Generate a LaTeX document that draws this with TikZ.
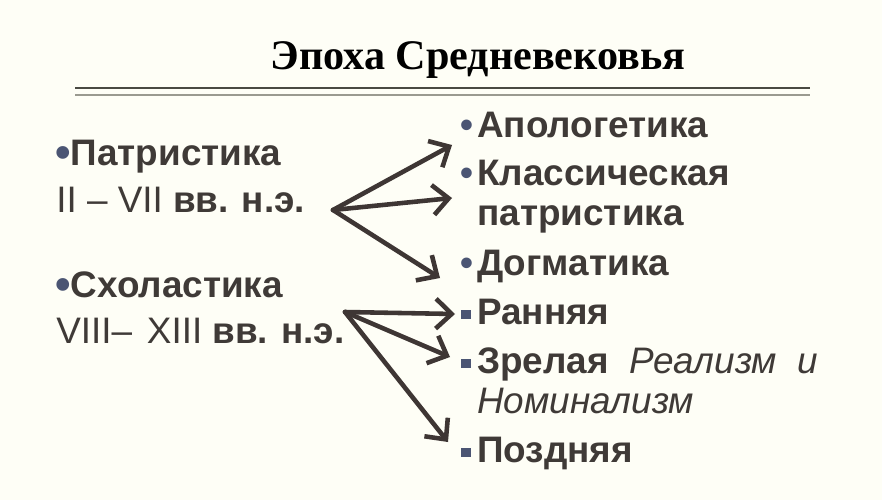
\documentclass[tikz,border=0pt]{standalone}
\usepackage{graphicx}
\usepackage{fontspec}
\setmainfont{Liberation Sans}
\newfontfamily\titlefont{Liberation Serif}
\usetikzlibrary{positioning, arrows.meta}
\definecolor{pagebg}{HTML}{FEFEF6}
\definecolor{txtc}{HTML}{3F3A37}
\definecolor{arrc}{HTML}{3E3634}
\definecolor{bulc}{HTML}{4B5573}
\definecolor{rulec}{HTML}{4A4A42}
\definecolor{rulelt}{HTML}{9A9A90}
\newcommand{\lbul}{{\color{bulc}\raisebox{-1.3pt}{\scalebox{1.2}{\textbullet}}}}
\newcommand{\rbul}{\makebox[9.6pt][l]{\color{bulc}\textbullet}}
\newcommand{\sbul}{\makebox[9pt][l]{\color{bulc}\raisebox{2.8pt}{\rule{5.4pt}{5.4pt}}}}

\begin{document}
\begin{tikzpicture}[
    x=0.02cm, y=-0.02cm,
    txt/.style={anchor=base west, inner sep=0pt, text=txtc, font=\fontsize{21}{25}\selectfont\bfseries},
    arr/.style={-{Straight Barb[length=9pt, width=17pt]}, line width=2.6pt, draw=arrc, line cap=round, line join=round}
]
    \fill[pagebg] (0,0) rectangle (882,500);

    \node[anchor=base, inner sep=0pt, text=black, font=\titlefont\fontsize{24}{28}\selectfont\bfseries] (title) at (478,70) {Эпоха Средневековья};
    \draw[line width=1.7pt, rulec] (75,88) -- (810,88);
    \draw[line width=0.6pt, rulelt] (75,95) -- (810,95);

    % left column
    \node[txt] (patr) at (55,165) {\lbul Патристика};
    \node[txt, font=\fontsize{21}{25}\selectfont] (patrdate) at (56,212) {II – VII \textbf{вв.}\hspace{0.35em}\textbf{н.э.}};
    \node[txt] (schol) at (55,297) {\lbul Схоластика};
    \node[txt, font=\fontsize{21}{25}\selectfont] (scholdate) at (56,343) {VIII–\hspace{0.4em}XIII \textbf{вв.}\hspace{0.35em}\textbf{н.э.}};

    % right column
    \node[txt] (apol) at (460,137) {\rbul Апологетика};
    \node[txt] (klass) at (460,185) {\rbul Классическая};
    \node[txt] (klass2) at (477,225) {патристика};
    \node[txt] (dogm) at (460,275) {\rbul Догматика};
    \node[txt] (rann) at (461,324) {\sbul Ранняя};
    \node[txt] (zrel) at (461,373) {\sbul Зрелая\ \ \textmd{\itshape Реализм\ \ и}};
    \node[txt, font=\fontsize{21}{25}\selectfont\itshape] (zrel2) at (477,413) {Номинализм};
    \node[txt] (pozd) at (461,462) {\sbul Поздняя};

    % arrows
    \coordinate (pfrom) at (333,210);
    \coordinate (pto1) at (452,145);
    \coordinate (pto2) at (452,198);
    \coordinate (pto3) at (440,278);
    \coordinate (sfrom) at (345,312);
    \coordinate (sto1) at (455,314);
    \coordinate (sto2) at (450,357);
    \coordinate (sto3) at (448,442);

    \draw[arr] (pfrom) -- (pto1);
    \draw[arr] (pfrom) -- (pto2);
    \draw[arr] (pfrom) -- (pto3);
    \draw[arr] (sfrom) -- (sto1);
    \draw[arr] (sfrom) -- (sto2);
    \draw[arr] (sfrom) -- (sto3);
\end{tikzpicture}
\end{document}
